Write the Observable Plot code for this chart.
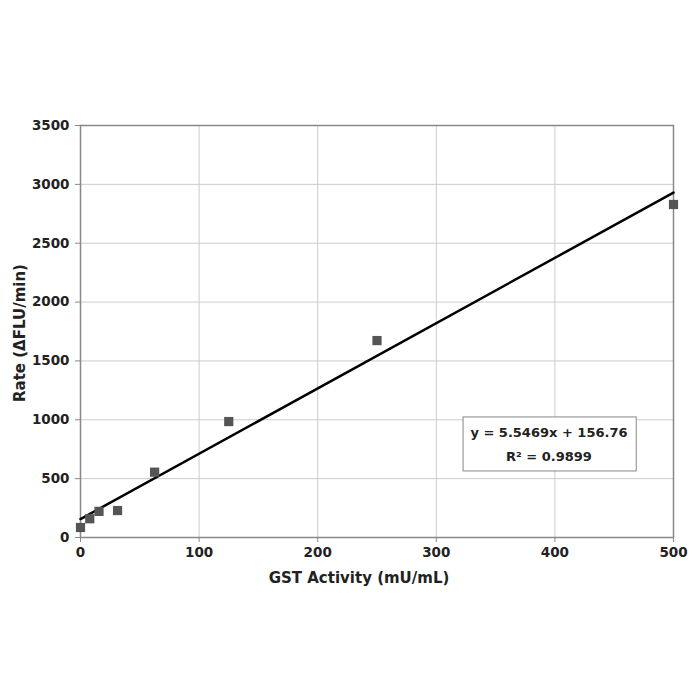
<!DOCTYPE html>
<html>
<head>
<meta charset="utf-8">
<script src="https://cdn.jsdelivr.net/npm/d3@7"></script>
<script src="https://cdn.jsdelivr.net/npm/@observablehq/plot@0.6"></script>
<style>
  html, body { margin: 0; padding: 0; background: #fff; }
  #chart { width: 700px; height: 700px; }
</style>
</head>
<body>
<div id="chart"></div>
<script>
const activity = [0, 7.8, 15.6, 31.25, 62.5, 125, 250, 500];
const rate = [85, 159, 222, 229, 555, 985, 1673, 2829];
const slope = 5.5469;
const intercept = 156.76;
const xTicks = [0, 100, 200, 300, 400, 500];
const yTicks = [0, 500, 1000, 1500, 2000, 2500, 3000, 3500];
const eqLines = ["y = 5.5469x + 156.76", "R² = 0.9899"];
const eqBox = {x1: 323, x2: 469, y1: 561, y2: 1020};
const eqTextX = 395;
const eqTextY = [892, 688];

const points = activity.map((a, i) => ({x: a, y: rate[i]}));
const fitLine = [0, 500].map(x => ({x, y: slope * x + intercept}));
const eqData = eqLines.map((t, i) => ({t, y: eqTextY[i]}));

const font = "DejaVu Sans, sans-serif";

const chart = Plot.plot({
  width: 700,
  height: 700,
  marginLeft: 80,
  marginRight: 27,
  marginTop: 125,
  marginBottom: 163,
  style: {fontFamily: font, fontSize: "13px", fontWeight: "bold", color: "#222", background: "#fff"},
  x: {domain: [0, 500], ticks: xTicks, label: null, tickFormat: d3.format("d")},
  y: {domain: [0, 3500], ticks: yTicks, label: null, tickFormat: d3.format("d")},
  marks: [
    Plot.gridX(xTicks, {stroke: "#ccc", strokeOpacity: 1, strokeWidth: 1}),
    Plot.gridY(yTicks, {stroke: "#ccc", strokeOpacity: 1, strokeWidth: 1}),
    Plot.frame({stroke: "#888", strokeWidth: 1.5}),
    Plot.axisX(xTicks, {tickSize: 5, tickPadding: 5, stroke: "#888", fontSize: 13.5, fontWeight: "bold", fill: "#222", tickFormat: d3.format("d")}),
    Plot.axisY(yTicks, {tickSize: 5, tickPadding: 6, stroke: "#888", fontSize: 13.5, fontWeight: "bold", fill: "#222", tickFormat: d3.format("d")}),
    Plot.rect([eqBox], {x1: "x1", x2: "x2", y1: "y1", y2: "y2", fill: "#fff", stroke: "#888", strokeWidth: 1}),
    Plot.text(eqData, {x: () => eqTextX, y: "y", text: "t", fontSize: 13, fontWeight: "bold", fill: "#222"}),
    Plot.line(fitLine, {x: "x", y: "y", stroke: "#000", strokeWidth: 2.5}),
    Plot.dot(points, {x: "x", y: "y", symbol: "square", r: 5.2, fill: "#555", stroke: "none"})
  ]
});

const svg = d3.select(chart);
svg.append("text")
  .attr("x", 359).attr("y", 583)
  .attr("text-anchor", "middle")
  .attr("font-family", font).attr("font-size", 15).attr("font-weight", "bold").attr("fill", "#222")
  .text("GST Activity (mU/mL)");
svg.append("text")
  .attr("transform", "translate(25,333) rotate(-90)")
  .attr("text-anchor", "middle")
  .attr("font-family", font).attr("font-size", 15).attr("font-weight", "bold").attr("fill", "#222")
  .text("Rate (ΔFLU/min)");

document.getElementById("chart").appendChild(chart);
</script>
</body>
</html>
